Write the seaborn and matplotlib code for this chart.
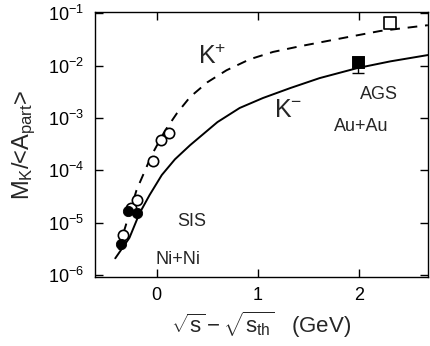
import numpy as np
import pandas as pd
import seaborn as sns
import matplotlib.pyplot as plt

# K+ data (open circles), SIS
kp_x = [-0.33, -0.25, -0.20, -0.04, 0.04, 0.12]
kp_y = [5.8e-6, 1.9e-5, 2.7e-5, 1.5e-4, 3.8e-4, 5.1e-4]
# K- data (filled circles)
km_x = [-0.35, -0.28, -0.20]
km_y = [4.0e-6, 1.7e-5, 1.5e-5]
# AGS points
ags_kp_x = [2.31]
ags_kp_y = [6.5e-2]
ags_km_x = [1.99]
ags_km_y = [1.15e-2]
ags_km_err_lo = [4.4e-3]
ags_km_err_hi = [3.0e-3]

# curves (log10 of y)
kp_curve_x = [-0.37, -0.32, -0.20, -0.05, 0.08, 0.20, 0.33, 0.50, 0.69, 0.92,
              1.15, 1.42, 1.88, 2.21, 2.68]
kp_curve_logy = [-5.52, -5.14, -4.38, -3.71, -3.25, -2.91, -2.60, -2.32, -2.09, -1.88,
                 -1.74, -1.63, -1.46, -1.34, -1.23]
km_curve_x = [-0.41, -0.27, -0.17, -0.07, 0.05, 0.18, 0.33, 0.60, 0.82, 1.05,
              1.32, 1.61, 1.98, 2.31, 2.68]
km_curve_logy = [-5.68, -5.29, -4.82, -4.47, -4.09, -3.79, -3.52, -3.08, -2.81, -2.62,
                 -2.43, -2.24, -2.05, -1.92, -1.80]

sns.set_style("ticks")
plt.rcParams["font.family"] = ["Liberation Sans", "DejaVu Sans"]
plt.rcParams["mathtext.fontset"] = "custom"
plt.rcParams["mathtext.rm"] = "Liberation Sans"
plt.rcParams["mathtext.it"] = "Liberation Sans"

fig = plt.figure(figsize=(4.3, 3.46), dpi=100)
ax = fig.add_axes([0.221, 0.199, 0.774, 0.766])

kp_curve = pd.DataFrame({"x": kp_curve_x, "y": 10 ** np.array(kp_curve_logy)})
km_curve = pd.DataFrame({"x": km_curve_x, "y": 10 ** np.array(km_curve_logy)})
sns.lineplot(data=kp_curve, x="x", y="y", ax=ax, color="black", lw=1.4,
             linestyle=(0, (5, 4)), sort=False)
sns.lineplot(data=km_curve, x="x", y="y", ax=ax, color="black", lw=1.4, sort=False)

sns.scatterplot(x=kp_x, y=kp_y, ax=ax, marker="o", s=55, facecolor="white",
                edgecolor="black", linewidth=1.2, zorder=3)
sns.scatterplot(x=km_x, y=km_y, ax=ax, marker="o", s=55, color="black",
                edgecolor="black", zorder=4)
sns.scatterplot(x=ags_kp_x, y=ags_kp_y, ax=ax, marker="s", s=70, facecolor="white",
                edgecolor="black", linewidth=1.2, zorder=3)
ax.errorbar(ags_km_x, ags_km_y, yerr=[ags_km_err_lo, ags_km_err_hi], fmt="none",
            ecolor="black", elinewidth=1, capsize=4, zorder=3)
sns.scatterplot(x=ags_km_x, y=ags_km_y, ax=ax, marker="s", s=70, color="black",
                edgecolor="black", zorder=4)

ax.set_yscale("log")
ax.set_xlim(-0.61, 2.68)
ax.set_ylim(10 ** -6.04, 10 ** -0.98)
ax.set_xticks([0, 1, 2])
ax.set_xticklabels(["0", "1", "2"])
ax.set_yticks([1e-6, 1e-5, 1e-4, 1e-3, 1e-2, 1e-1])
ax.set_yticklabels([r"10$^{-6}$", r"10$^{-5}$", r"10$^{-4}$", r"10$^{-3}$",
                    r"10$^{-2}$", r"10$^{-1}$"])
ax.minorticks_off()
ax.tick_params(direction="in", length=6, width=1, labelsize=13, top=True, right=True,
               color="black", labelcolor="black")
ax.tick_params(axis="y", pad=8)
ax.tick_params(axis="x", pad=7)
for sp in ax.spines.values():
    sp.set_color("black")
    sp.set_linewidth(1)

ax.set_ylabel(r"M$_{\rm K}$/<A$_{\rm part}$>", fontsize=17, labelpad=7)
ax.set_xlabel(r"$\sqrt{\rm s}-\sqrt{\rm s_{th}}$   (GeV)", fontsize=16, labelpad=4)

ax.text(0.55, 1.45e-2, r"K$^{+}$", fontsize=18, ha="center", va="center")
ax.text(1.30, 1.4e-3, r"K$^{-}$", fontsize=18, ha="center", va="center")
ax.text(2.20, 2.75e-3, "AGS", fontsize=13, ha="center", va="center")
ax.text(2.02, 6.9e-4, "Au+Au", fontsize=13, ha="center", va="center")
ax.text(0.35, 1.07e-5, "SIS", fontsize=13, ha="center", va="center")
ax.text(0.21, 2.0e-6, "Ni+Ni", fontsize=13, ha="center", va="center")

fig.savefig("out.png", dpi=100)
